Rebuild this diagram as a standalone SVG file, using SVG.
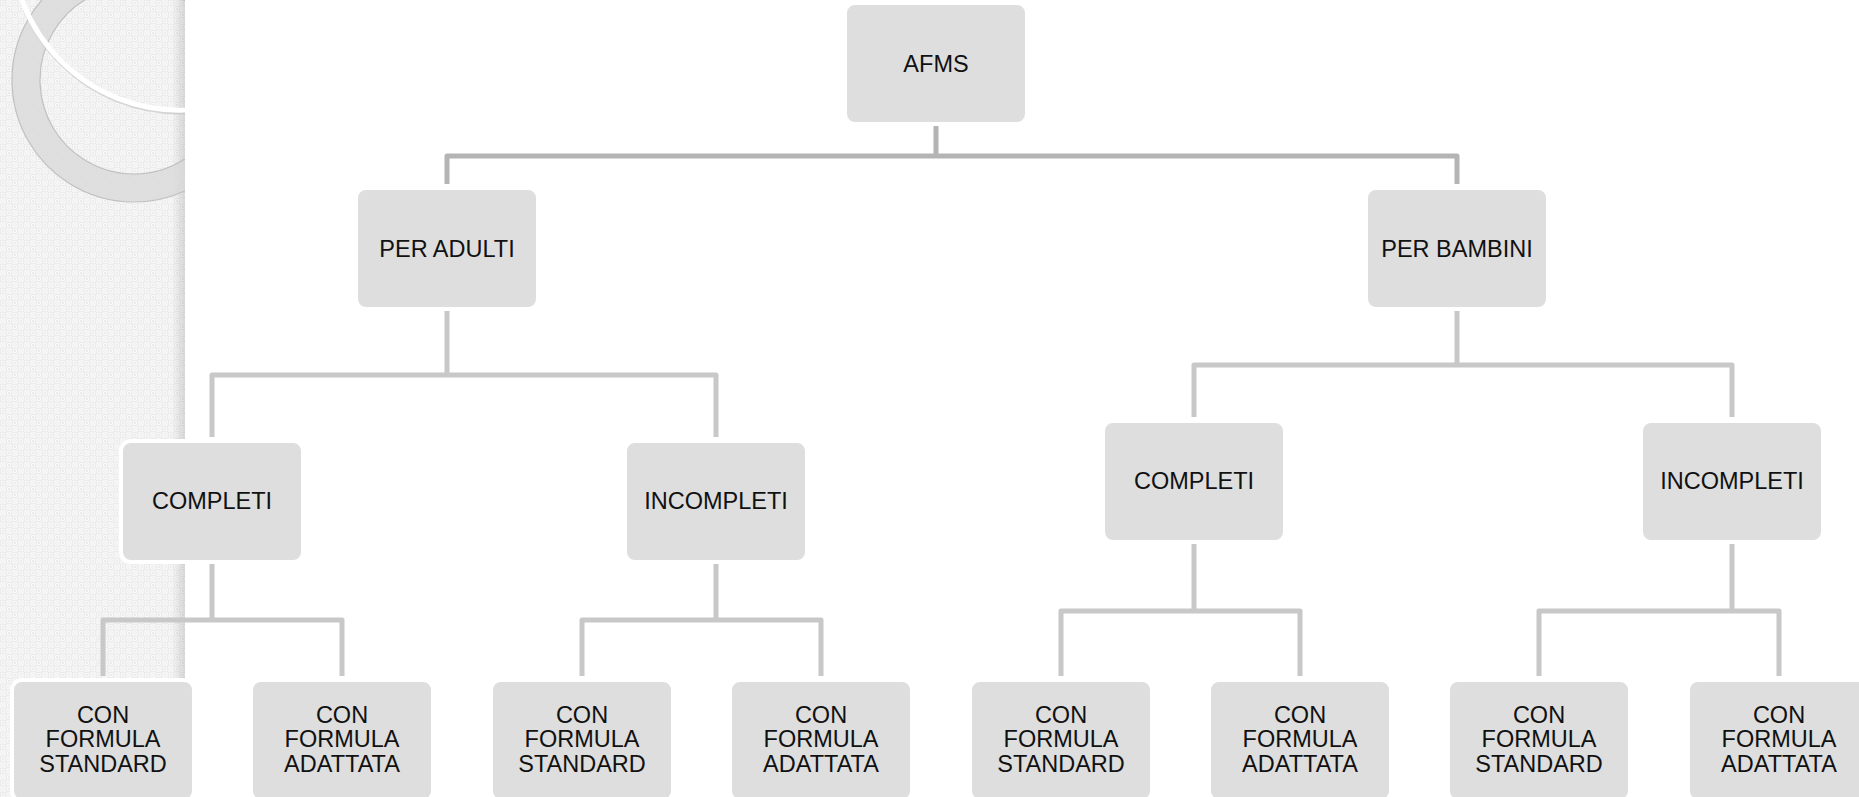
<svg xmlns="http://www.w3.org/2000/svg" width="1859" height="797" viewBox="0 0 1859 797">
<defs>
<pattern id="chk" x="0" y="0" width="12" height="12" patternUnits="userSpaceOnUse">
<rect width="12" height="12" fill="#f4f4f4"/>
<rect x="0" y="0" width="6" height="6" fill="#ebebeb"/>
<rect x="6" y="6" width="6" height="6" fill="#ebebeb"/>
<rect x="1.5" y="1.5" width="3" height="3" fill="none" stroke="#f8f8f8" stroke-width="1"/>
<rect x="7.5" y="7.5" width="3" height="3" fill="none" stroke="#f8f8f8" stroke-width="1"/>
</pattern>
<linearGradient id="edge" x1="0" y1="0" x2="1" y2="0">
<stop offset="0" stop-color="#000" stop-opacity="0"/>
<stop offset="1" stop-color="#000" stop-opacity="0.12"/>
</linearGradient>
<clipPath id="panel"><rect x="0" y="0" width="185" height="797"/></clipPath>
<style>
.box{fill:#dedede;stroke:#ffffff;stroke-width:4}
.t{font-family:"Liberation Sans",Arial,sans-serif;font-size:23.5px;fill:#111;text-anchor:middle}
.c{fill:none;stroke:#c8c8c8;stroke-width:5;stroke-linejoin:round}
.c0{fill:none;stroke:#b4b4b4;stroke-width:5;stroke-linejoin:round}
</style>
</defs>
<rect width="1859" height="797" fill="#ffffff"/>
<g id="panel-bg" clip-path="url(#panel)">
<rect x="0" y="0" width="185" height="797" fill="url(#chk)"/>
<rect x="172" y="0" width="13" height="797" fill="url(#edge)"/>
<path d="M134,-42 A122,122 0 1 0 134.01,-42 Z M134,-14 A94,94 0 1 1 133.99,-14 Z" fill="#d8d8d8" fill-opacity="0.75" fill-rule="evenodd" stroke="#c0c0c0" stroke-width="1.2"/>
<circle cx="179.6" cy="-55" r="168" fill="none" stroke="#c8c8c8" stroke-width="3" stroke-opacity="0.7"/>
<circle cx="179.6" cy="-57.8" r="168" fill="none" stroke="#ffffff" stroke-width="5"/>
</g>
<g id="connectors">
<path class="c0" d="M936,125 V156 M447,184 V156 H1457 V184"/>
<path class="c" d="M447,310 V375 M212,437 V375 H716 V437"/>
<path class="c" d="M1457,310 V365 M1194,417 V365 H1732 V417"/>
<path class="c" d="M212,563 V620 M103,676 V620 H342 V676"/>
<path class="c" d="M716,563 V620 M582,676 V620 H821 V676"/>
<path class="c" d="M1194,543 V611 M1061,676 V611 H1300 V676"/>
<path class="c" d="M1732,543 V611 M1539,676 V611 H1779 V676"/>
</g>
<g id="n-afms"><rect class="box" x="845" y="3" width="182" height="121" rx="10"/><text class="t" x="936" y="72">AFMS</text></g>
<g id="n-adulti"><rect class="box" x="356" y="188" width="182" height="121" rx="10"/><text class="t" x="447" y="257">PER ADULTI</text></g>
<g id="n-bambini"><rect class="box" x="1366" y="188" width="182" height="121" rx="10"/><text class="t" x="1457" y="257">PER BAMBINI</text></g>
<g id="n-completi-a"><rect class="box" x="121" y="441" width="182" height="121" rx="10"/><text class="t" x="212" y="509">COMPLETI</text></g>
<g id="n-incompleti-a"><rect class="box" x="625" y="441" width="182" height="121" rx="10"/><text class="t" x="716" y="509">INCOMPLETI</text></g>
<g id="n-completi-b"><rect class="box" x="1103" y="421" width="182" height="121" rx="10"/><text class="t" x="1194" y="489">COMPLETI</text></g>
<g id="n-incompleti-b"><rect class="box" x="1641" y="421" width="182" height="121" rx="10"/><text class="t" x="1732" y="489">INCOMPLETI</text></g>
<g id="n-a-c-std"><rect class="box" x="12" y="680" width="182" height="121" rx="10"/><text class="t" x="103" y="723">CON<tspan x="103" y="747">FORMULA</tspan><tspan x="103" y="772">STANDARD</tspan></text></g>
<g id="n-a-c-ada"><rect class="box" x="251" y="680" width="182" height="121" rx="10"/><text class="t" x="342" y="723">CON<tspan x="342" y="747">FORMULA</tspan><tspan x="342" y="772">ADATTATA</tspan></text></g>
<g id="n-a-i-std"><rect class="box" x="491" y="680" width="182" height="121" rx="10"/><text class="t" x="582" y="723">CON<tspan x="582" y="747">FORMULA</tspan><tspan x="582" y="772">STANDARD</tspan></text></g>
<g id="n-a-i-ada"><rect class="box" x="730" y="680" width="182" height="121" rx="10"/><text class="t" x="821" y="723">CON<tspan x="821" y="747">FORMULA</tspan><tspan x="821" y="772">ADATTATA</tspan></text></g>
<g id="n-b-c-std"><rect class="box" x="970" y="680" width="182" height="121" rx="10"/><text class="t" x="1061" y="723">CON<tspan x="1061" y="747">FORMULA</tspan><tspan x="1061" y="772">STANDARD</tspan></text></g>
<g id="n-b-c-ada"><rect class="box" x="1209" y="680" width="182" height="121" rx="10"/><text class="t" x="1300" y="723">CON<tspan x="1300" y="747">FORMULA</tspan><tspan x="1300" y="772">ADATTATA</tspan></text></g>
<g id="n-b-i-std"><rect class="box" x="1448" y="680" width="182" height="121" rx="10"/><text class="t" x="1539" y="723">CON<tspan x="1539" y="747">FORMULA</tspan><tspan x="1539" y="772">STANDARD</tspan></text></g>
<g id="n-b-i-ada"><rect class="box" x="1688" y="680" width="182" height="121" rx="10"/><text class="t" x="1779" y="723">CON<tspan x="1779" y="747">FORMULA</tspan><tspan x="1779" y="772">ADATTATA</tspan></text></g>
</svg>
